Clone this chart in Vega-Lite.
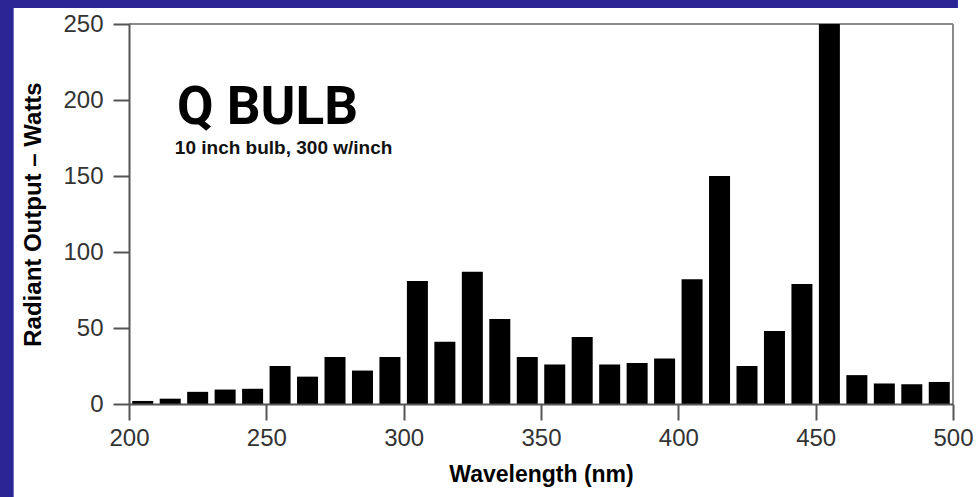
{
  "$schema": "https://vega.github.io/schema/vega-lite/v6.json",
  "width": 824,
  "height": 380,
  "autosize": {"type": "none"},
  "padding": {"left": 129, "top": 24, "right": 23, "bottom": 93},
  "background": "white",
  "config": {"view": {"stroke": null}, "font": "Liberation Sans"},
  "datasets": {
    "spectrum": [
      {"nm": 205, "watts": 2}, {"nm": 215, "watts": 3.5}, {"nm": 225, "watts": 8},
      {"nm": 235, "watts": 9.5}, {"nm": 245, "watts": 10}, {"nm": 255, "watts": 25},
      {"nm": 265, "watts": 18}, {"nm": 275, "watts": 31}, {"nm": 285, "watts": 22},
      {"nm": 295, "watts": 31}, {"nm": 305, "watts": 81}, {"nm": 315, "watts": 41},
      {"nm": 325, "watts": 87}, {"nm": 335, "watts": 56}, {"nm": 345, "watts": 31},
      {"nm": 355, "watts": 26}, {"nm": 365, "watts": 44}, {"nm": 375, "watts": 26},
      {"nm": 385, "watts": 27}, {"nm": 395, "watts": 30}, {"nm": 405, "watts": 82},
      {"nm": 415, "watts": 150}, {"nm": 425, "watts": 25}, {"nm": 435, "watts": 48},
      {"nm": 445, "watts": 79}, {"nm": 455, "watts": 250}, {"nm": 465, "watts": 19},
      {"nm": 475, "watts": 13.5}, {"nm": 485, "watts": 13}, {"nm": 495, "watts": 14.5}
    ],
    "one": [{}]
  },
  "layer": [
    {
      "data": {"name": "one"},
      "mark": {"type": "rect", "color": "#2b2494", "clip": false},
      "encoding": {
        "x": {"datum": 100, "type": "quantitative", "scale": {"domain": [200, 500], "nice": false, "zero": false, "padding": 0}},
        "x2": {"datum": 158},
        "y": {"datum": -80, "type": "quantitative", "scale": {"domain": [0, 250], "nice": false, "padding": 0}},
        "y2": {"datum": 280}
      }
    },
    {
      "data": {"name": "one"},
      "mark": {"type": "rect", "color": "#2b2494", "clip": false},
      "encoding": {
        "x": {"datum": 100, "type": "quantitative"},
        "x2": {"datum": 501.8},
        "y": {"datum": 260.5, "type": "quantitative"},
        "y2": {"datum": 280}
      }
    },
    {
      "data": {"name": "one"},
      "mark": {"type": "rule", "color": "#8a8a8a", "strokeWidth": 2},
      "encoding": {"y": {"datum": 250, "type": "quantitative"}}
    },
    {
      "data": {"name": "one"},
      "mark": {"type": "rule", "color": "#8a8a8a", "strokeWidth": 2},
      "encoding": {"x": {"datum": 500, "type": "quantitative"}}
    },
    {
      "data": {"name": "spectrum"},
      "mark": {"type": "bar", "color": "black", "width": 21},
      "encoding": {
        "x": {
          "field": "nm", "type": "quantitative",
          "scale": {"domain": [200, 500], "nice": false, "zero": false, "padding": 0},
          "axis": {
            "values": [200, 250, 300, 350, 400, 450, 500],
            "title": "Wavelength (nm)",
            "grid": false, "tickSize": 16, "tickWidth": 2, "tickColor": "#555",
            "domainColor": "#555", "domainWidth": 2,
            "labelFontSize": 24, "labelColor": "#333", "labelPadding": 6, "labelFlush": false,
            "titleFontSize": 23, "titleFontWeight": "bold", "titleColor": "black", "titlePadding": 13,
            "zindex": 1
          }
        },
        "y": {
          "field": "watts", "type": "quantitative",
          "scale": {"domain": [0, 250], "nice": false, "padding": 0},
          "axis": {
            "values": [0, 50, 100, 150, 200, 250],
            "title": "Radiant Output – Watts",
            "grid": false, "tickSize": 16, "tickWidth": 2, "tickColor": "#555",
            "domainColor": "#555", "domainWidth": 2,
            "labelFontSize": 24, "labelColor": "#333", "labelPadding": 10,
            "titleFontSize": 24, "titleFontWeight": "bold", "titleColor": "black", "titlePadding": 17,
            "zindex": 1
          }
        }
      }
    },
    {
      "data": {"name": "one"},
      "mark": {"type": "text", "text": "Q BULB", "align": "left", "baseline": "alphabetic", "fontSize": 53, "fontWeight": "bold", "font": "Roboto", "color": "black"},
      "encoding": {"x": {"datum": 217.5, "type": "quantitative"}, "y": {"datum": 184, "type": "quantitative"}}
    },
    {
      "data": {"name": "one"},
      "mark": {"type": "text", "text": "10 inch bulb, 300 w/inch", "align": "left", "baseline": "alphabetic", "fontSize": 19, "fontWeight": "bold", "font": "Liberation Sans", "color": "#111"},
      "encoding": {"x": {"datum": 216.7, "type": "quantitative"}, "y": {"datum": 164.3, "type": "quantitative"}}
    }
  ]
}
